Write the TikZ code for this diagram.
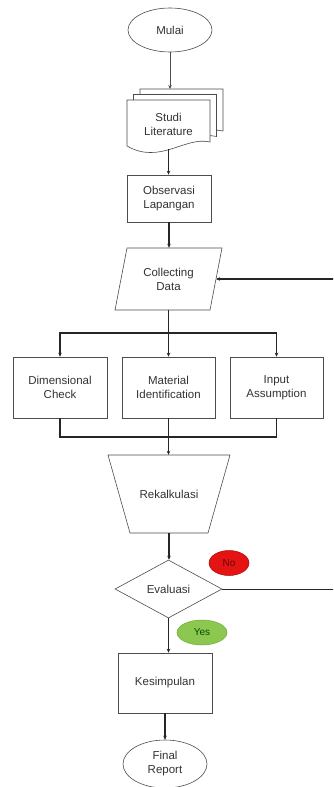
\documentclass[tikz,border=0pt]{standalone}
\usepackage{fontspec}
\setmainfont{Liberation Sans}
\usetikzlibrary{shapes.geometric,arrows.meta}
\definecolor{nored}{RGB}{228,20,20}
\definecolor{noredd}{RGB}{170,10,10}
\definecolor{yesgreen}{RGB}{140,200,80}
\definecolor{yesgreend}{RGB}{110,170,60}
\begin{document}
\begin{tikzpicture}[x=1pt,y={(0pt,-1pt)},
  txt/.style={font=\fontsize{11.5}{14}\selectfont, text=black!80, align=center},
  box/.style={txt, draw=black!70, line width=0.6pt, fill=white, inner sep=0pt},
  shapeline/.style={draw=black!70, line width=0.6pt, fill=white},
  con/.style={draw=black!85, line width=1.3pt},
  arr/.style={con, -{Stealth[length=4pt,width=3.5pt]}},
]
\useasboundingbox (0,0) rectangle (333,787);
\clip (0,0) rectangle (333,787);

\node[box, ellipse, minimum width=84pt, minimum height=44pt] (mulai) at (170,30) {Mulai};

% stacked documents
\draw[shapeline, shift={(13,-11)}] (127,100) -- (210,100) -- (210,142) .. controls (185,136) and (160,165) .. (127,146) -- cycle;
\draw[shapeline, shift={(6.5,-5.5)}] (127,100) -- (210,100) -- (210,142) .. controls (185,136) and (160,165) .. (127,146) -- cycle;
\draw[shapeline] (127,100) -- (210,100) -- (210,142) .. controls (185,136) and (160,165) .. (127,146) -- cycle;
\node[txt, minimum width=83pt, minimum height=49pt, inner sep=0pt] (studi) at (168.5,124.5) {Studi\\Literature};
\coordinate (stacktop) at (170,89);
\draw[arr, line width=0.8pt, draw=black!70] (mulai) -- (stacktop);

\node[box, minimum width=84pt, minimum height=47pt] (obs) at (169,198.5) {Observasi\\Lapangan};
\draw[arr, line width=0.9pt] (studi.south) -- (studi.south |- obs.north);

% Collecting Data (parallelogram)
\draw[shapeline] (127,248) -- (222,248) -- (210,310) -- (115,310) -- cycle;
\node[txt, minimum width=95pt, minimum height=62pt, inner sep=0pt] (collect) at (168.5,279) {Collecting\\Data};
\coordinate (collectR) at (216,279);
\draw[arr, line width=1.1pt] (obs.south) -- (obs.south |- collect.north);

% branches
\node[box, minimum width=94pt, minimum height=61pt] (dim) at (60,387.5) {Dimensional\\Check};
\node[box, minimum width=93pt, minimum height=61pt] (mat) at (168.5,387.5) {Material\\Identification};
\node[box, minimum width=93pt, minimum height=61pt] (inp) at (276.5,387.5) {Input\\Assumption};
\coordinate (split) at (168.5,333);
\draw[con] (collect.south) -- (split);
\draw[arr] (split) -| (dim.north);
\draw[arr] (split) -| (inp.north);
\draw[arr] (split) -- (mat.north);

\coordinate (merge) at (168.5,437);
\draw[con] (dim.south) |- (merge);
\draw[con] (inp.south) |- (merge);
\draw[con] (mat.south) -- (merge);

% Rekalkulasi (inverted trapezium)
\draw[shapeline] (108,455) -- (230,455) -- (208,533) -- (130,533) -- cycle;
\node[txt, minimum width=100pt, minimum height=78pt, inner sep=0pt] (rek) at (169,494) {Rekalkulasi};
\draw[arr] (merge) -- (merge |- rek.north);

\node[box, diamond, minimum width=107pt, minimum height=58pt] (eva) at (168.5,589) {Evaluasi};
\draw[arr] (rek.south) -- (rek.south |- eva.north);

\coordinate (fb) at (345,589);
\draw[con, line width=0.8pt] (eva.east) -- (fb);
\draw[arr] (fb) |- (collectR);

\node[ellipse, fill=nored, draw=noredd, line width=0.5pt, minimum width=40pt, minimum height=25pt, inner sep=0pt, font=\fontsize{10}{12}\selectfont, text=noredd!60!black] (no) at (229,563) {No};
\node[ellipse, fill=yesgreen, draw=yesgreend, line width=0.5pt, minimum width=50pt, minimum height=25pt, inner sep=0pt, font=\fontsize{10}{12}\selectfont, text=black!70!green] (yes) at (202,632.5) {Yes};

\node[box, minimum width=94pt, minimum height=60pt] (kes) at (165,683) {Kesimpulan};
\draw[arr] (eva.south) -- (eva.south |- kes.north);

\node[box, ellipse, minimum width=84pt, minimum height=48pt] (final) at (165,764) {Final\\Report};
\draw[arr] (kes.south) -- (final.north);
\end{tikzpicture}
\end{document}
